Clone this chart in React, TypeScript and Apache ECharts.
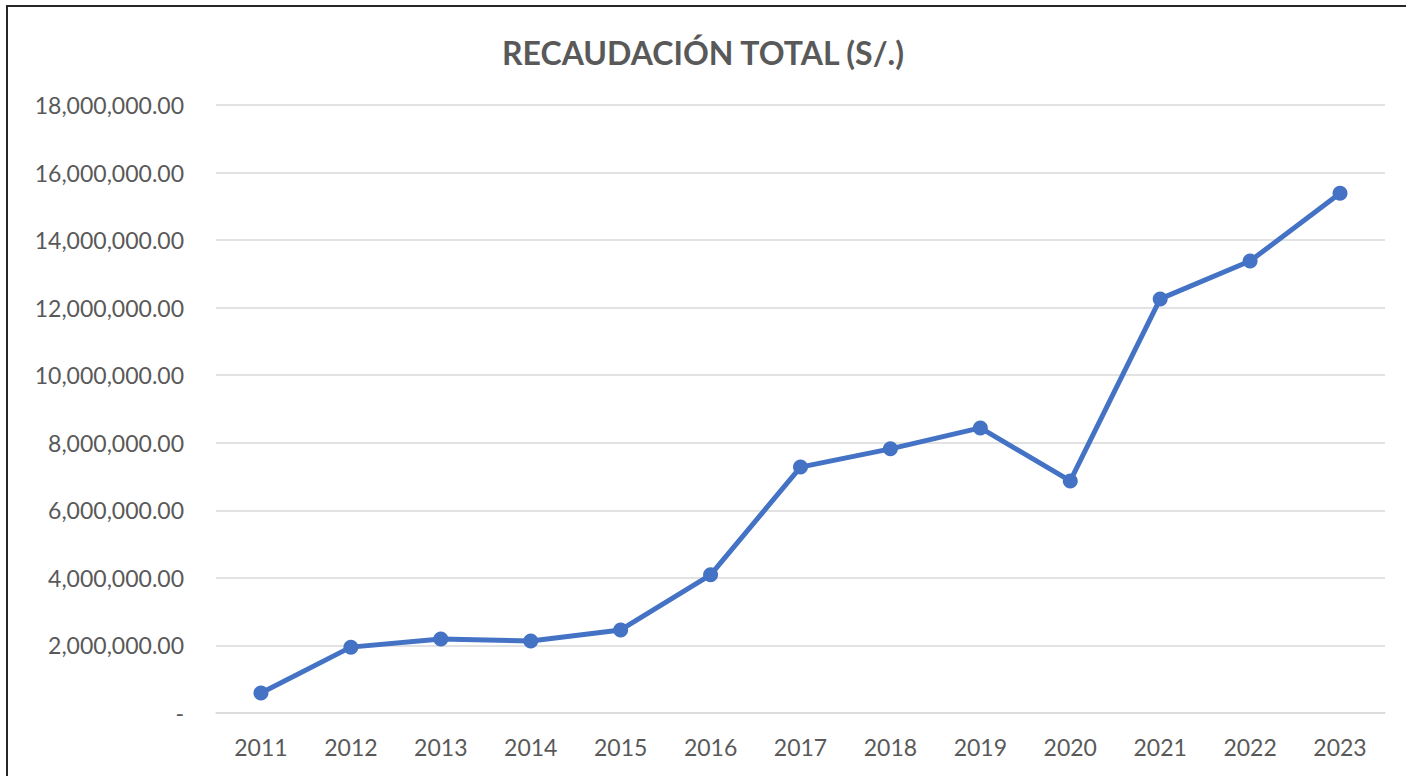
import React, { useEffect, useRef } from "react";
import * as echarts from "echarts";

const TITLE = "RECAUDACIÓN TOTAL (S/.)";
const years = ["2011", "2012", "2013", "2014", "2015", "2016", "2017", "2018", "2019", "2020", "2021", "2022", "2023"];
const recaudacion = [590000, 1950000, 2190000, 2130000, 2460000, 4090000, 7280000, 7820000, 8440000, 6870000, 12260000, 13380000, 15390000];
const yMin = 0;
const yMax = 18000000;
const yInterval = 2000000;

function fmt(v: number): string {
  if (v === 0) return "-";
  return v.toLocaleString("en-US", { minimumFractionDigits: 2, maximumFractionDigits: 2 });
}

export default function App() {
  const ref = useRef<HTMLDivElement>(null);
  useEffect(() => {
    if (!ref.current) return;
    const chart = echarts.init(ref.current, undefined, { renderer: "svg" });
    const font = "Lato, 'Open Sans', sans-serif";
    chart.setOption({
      animation: false,
      backgroundColor: "#ffffff",
      title: {
        text: TITLE,
        left: "center",
        top: 31,
        textStyle: { fontFamily: font, fontSize: 32, fontWeight: "bold", color: "#595959" },
      },
      graphic: [
        {
          type: "rect",
          shape: { x: 7, y: 6, width: 1420, height: 800 },
          style: { fill: "none", stroke: "#262626", lineWidth: 2 },
          silent: true,
        },
      ],
      grid: { left: 216, right: 21, top: 105, bottom: 63, containLabel: false },
      xAxis: {
        type: "category",
        data: years,
        boundaryGap: true,
        axisLine: { show: true, lineStyle: { color: "#d9d9d9", width: 1.5 } },
        axisTick: { show: false },
        axisLabel: { color: "#595959", fontFamily: font, fontSize: 23, margin: 22 },
        splitLine: { show: false },
      },
      yAxis: {
        type: "value",
        min: yMin,
        max: yMax,
        interval: yInterval,
        axisLine: { show: false },
        axisTick: { show: false },
        axisLabel: { color: "#595959", fontFamily: font, fontSize: 23, margin: 32, formatter: fmt },
        splitLine: { lineStyle: { color: "#d9d9d9", width: 1.5 } },
      },
      series: [
        {
          type: "line",
          data: recaudacion,
          symbol: "circle",
          symbolSize: 15,
          lineStyle: { color: "#4472C4", width: 5 },
          itemStyle: { color: "#4472C4" },
        },
      ],
    });
    return () => chart.dispose();
  }, []);
  return <div ref={ref} style={{ position: "fixed", left: 0, top: 0, width: 1406, height: 776 }} />;
}
